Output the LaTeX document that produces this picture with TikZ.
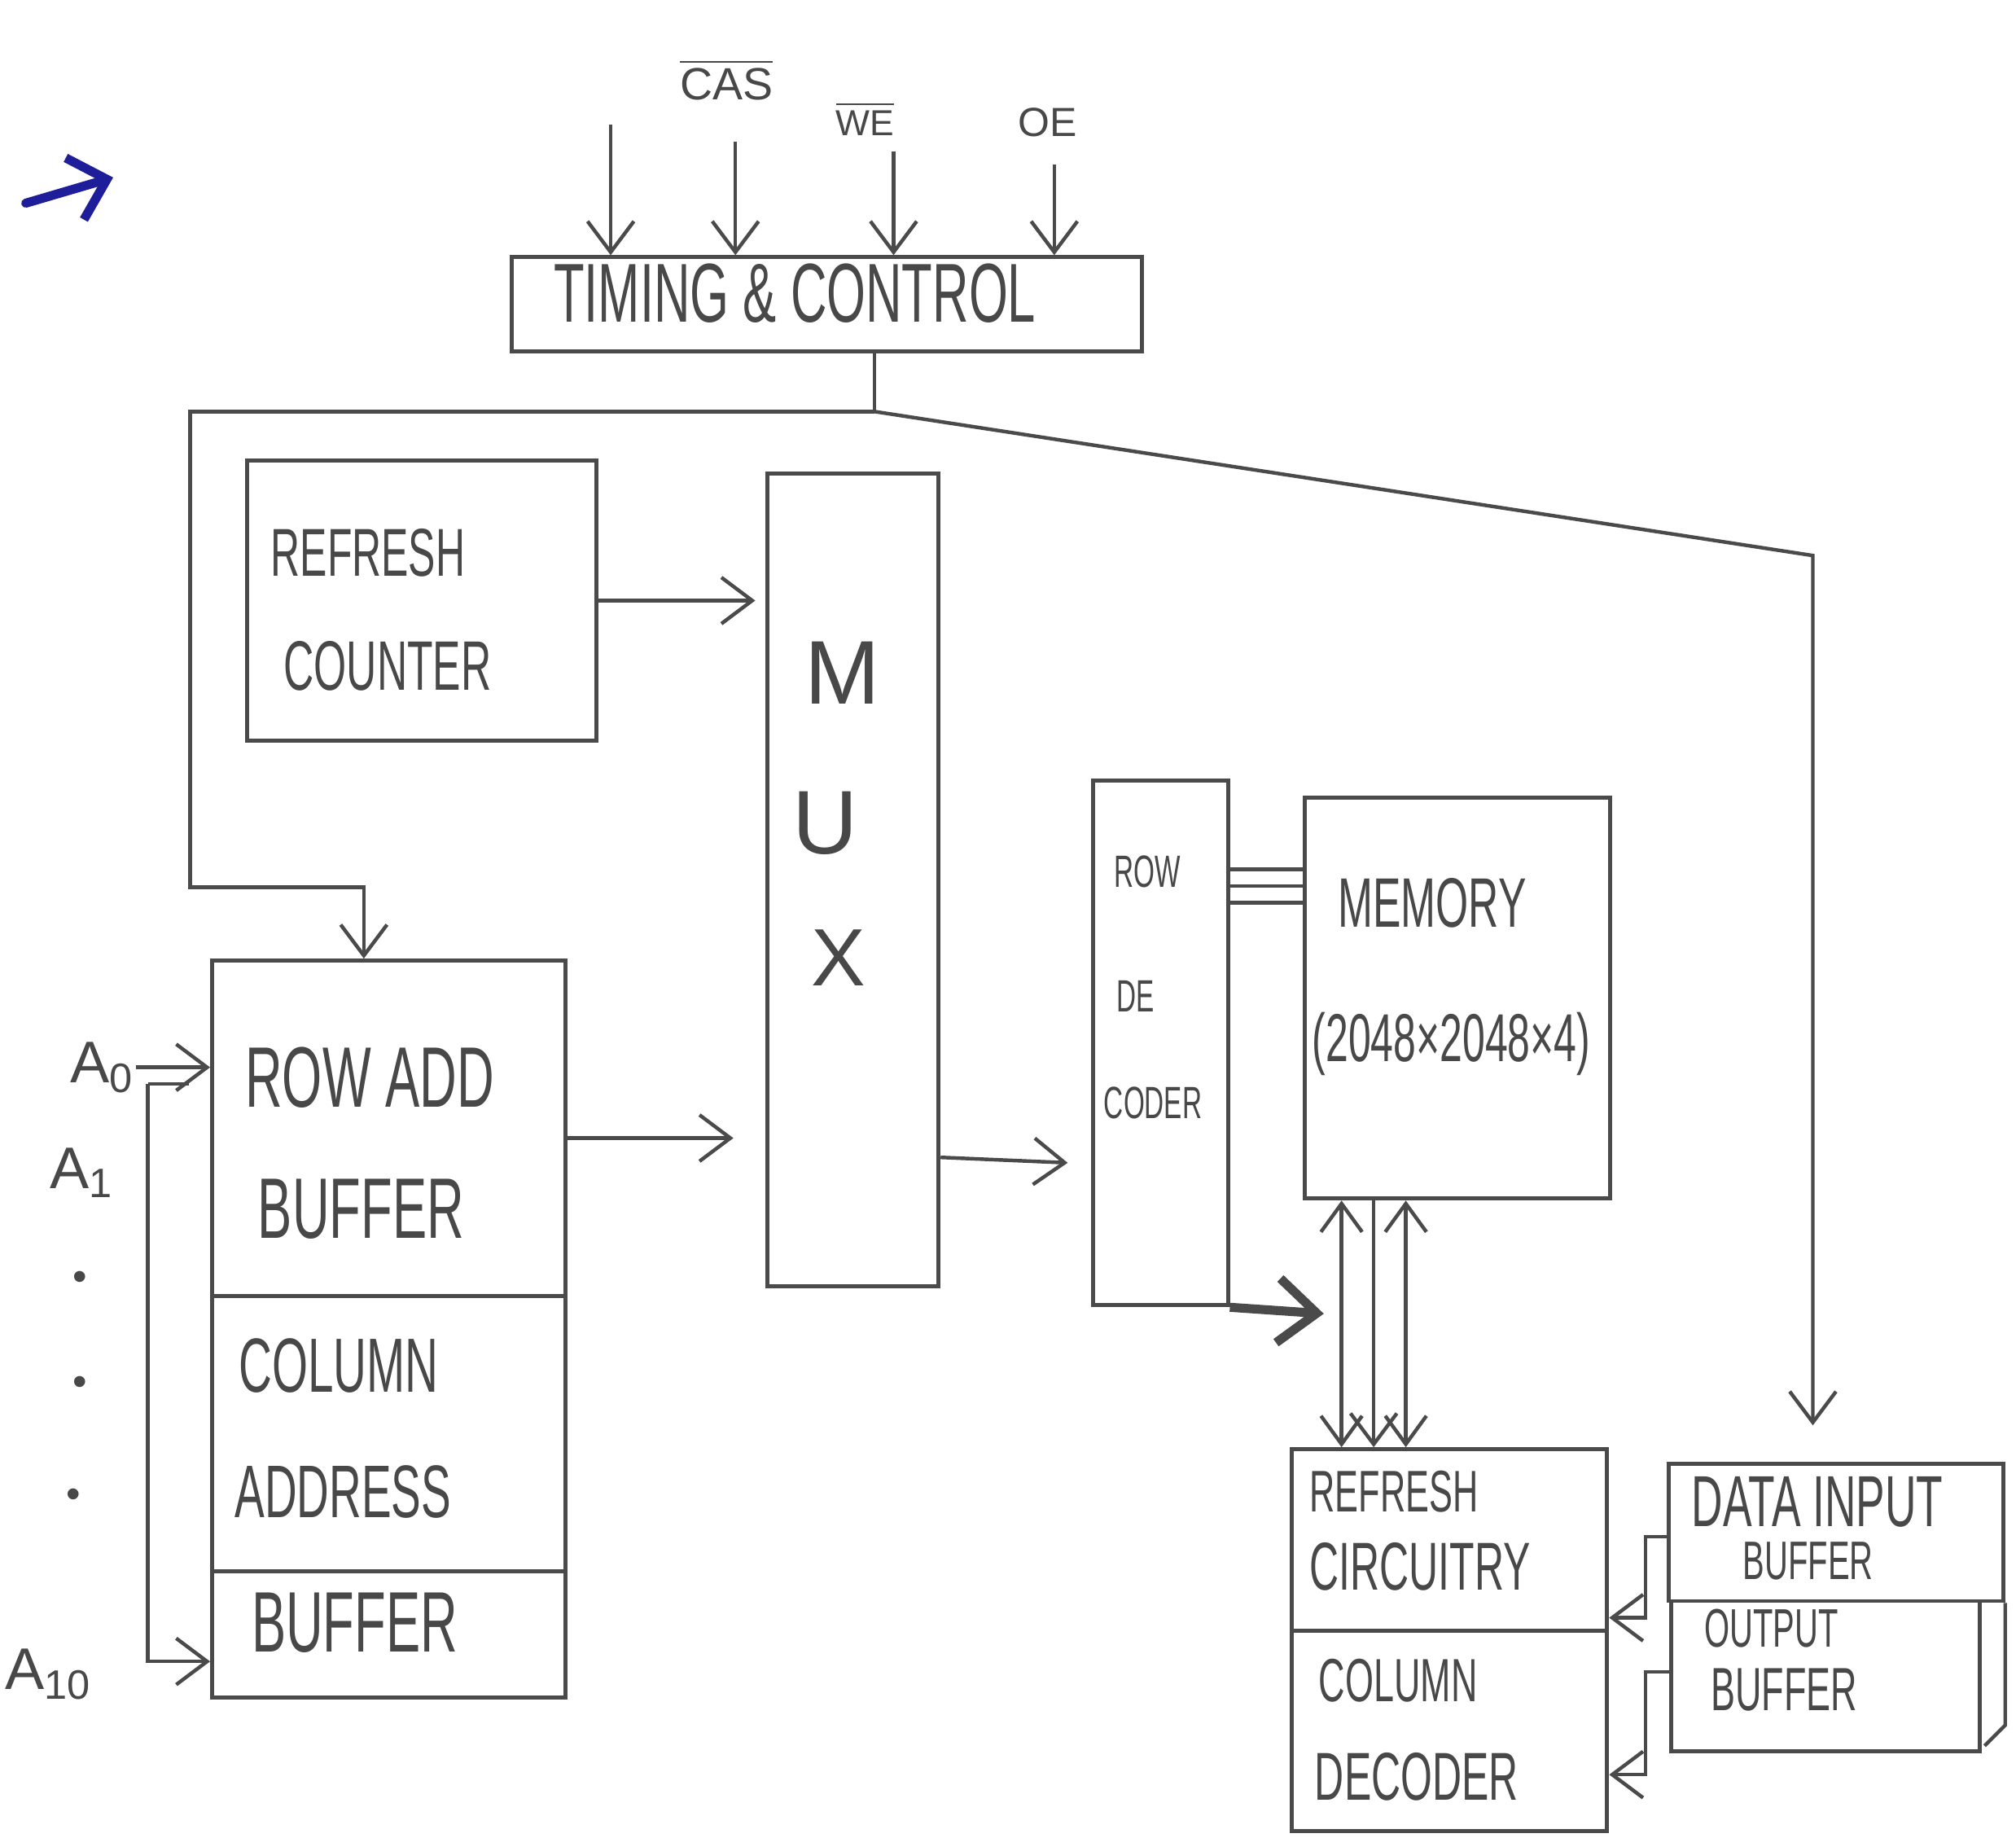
\documentclass[tikz,border=0pt]{standalone}
\usepackage{fontspec}
\newfontfamily\hand[FakeStretch=0.6]{Liberation Sans}
\newfontfamily\handw{Liberation Sans}
\usetikzlibrary{arrows.meta,fit,calc}
\definecolor{ink}{HTML}{4A4A4A}
\definecolor{txt}{HTML}{484848}
\definecolor{pen}{HTML}{1E1E9A}
\begin{document}
\begin{tikzpicture}[x=0.1mm,y=-0.1mm,
  box/.style={draw=ink, line width=0.9pt, inner sep=0pt},
  wire/.style={draw=ink, line width=0.8pt},
  arr/.style={wire, -{Straight Barb[length=2.4mm,width=3.6mm]}},
  arrb/.style={wire, {Straight Barb[length=2.2mm,width=3.2mm]}-{Straight Barb[length=2.2mm,width=3.2mm]}},
  lbl/.style={text=txt, inner sep=0pt, anchor=west, font=\hand\fontsize{#1}{#1}\selectfont},
  big/.style={text=txt, inner sep=0pt, font=\handw\fontsize{#1}{#1}\selectfont}]
\useasboundingbox (0,0) rectangle (1568,1429);
\fill[white] (0,0) rectangle (1568,1429);

% blue pen arrow
\coordinate (b1) at (20,158);
\coordinate (b2) at (88,138);
\draw[pen, line width=2pt, line cap=round, -{Straight Barb[length=2.6mm,width=5mm,line width=2pt]}] (b1) -- (b2);

% timing & control
\node[box, fit={(398,200) (888,273)}] (tc) {};
\node[lbl=18.5] (tct) at (430,228) {TIMING \& CONTROL};
\coordinate (s1) at (475,97);
\coordinate (s2) at (572,110);
\coordinate (s3) at (695,118);
\coordinate (s4) at (820,128);
\draw[arr] (s1) -- (s1 |- tc.north);
\draw[arr] (s2) -- (s2 |- tc.north);
\draw[arr] (s3) -- (s3 |- tc.north);
\draw[arr] (s4) -- (s4 |- tc.north);
\node[big=10] (cas) at (565,62) {$\overline{\mbox{CAS}}$};
\node[big=8] (we) at (673,92) {$\overline{\mbox{WE}}$};
\node[big=9] (oe) at (815,95) {OE};

% blocks
\node[box, fit={(192,358) (464,576)}] (rc) {};
\node[lbl=15] at (210,430) {REFRESH};
\node[lbl=15.5] at (220,518) {COUNTER};

\node[box, fit={(597,368) (730,1000)}] (mux) {};
\node[big=20] at (655,523) {M};
\node[big=20] at (642,640) {U};
\node[big=18] at (652,745) {X};

\node[box, fit={(165,747) (440,1008)}] (ra) {};
\node[box, fit={(165,1008) (440,1320)}] (ca) {};
\draw[wire] (ca.west |- 0,1222) -- (ca.east |- 0,1222);
\node[lbl=19] at (190,838) {ROW ADD};
\node[lbl=19] at (200,940) {BUFFER};
\node[lbl=17] at (185,1062) {COLUMN};
\node[lbl=16.5] at (182,1160) {ADDRESS};
\node[lbl=19] at (195,1262) {BUFFER};

\node[box, fit={(850,607) (955,1015)}] (rd) {};
\node[lbl=10] at (866,678) {ROW};
\node[lbl=10] at (868,775) {DE};
\node[lbl=10] at (858,858) {CODER};

\node[box, fit={(1015,620) (1252,932)}] (mem) {};
\node[lbl=15.5] at (1040,702) {MEMORY};
\node[lbl=15] at (1020,812) {(2048×2048×4)};

\node[box, fit={(1005,1127) (1250,1268)}] (rf) {};
\node[box, fit={(1005,1268) (1250,1424)}] (cd) {};
\node[lbl=13] at (1018,1160) {REFRESH};
\node[lbl=15] at (1018,1218) {CIRCUITRY};
\node[lbl=13.5] at (1025,1307) {COLUMN};
\node[lbl=15] at (1022,1382) {DECODER};

\node[box, fit={(1298,1138) (1558,1245)}] (dib) {};
\node[box, fit={(1300,1245) (1540,1362)}] (ob) {};
\node[lbl=16] at (1315,1168) {DATA INPUT};
\node[lbl=12] at (1355,1214) {BUFFER};
\node[lbl=12] at (1325,1266) {OUTPUT};
\node[lbl=13.5] at (1330,1314) {BUFFER};
\draw[wire] (dib.south east) -- ($(dib.south east)+(0,95)$) -- ($(ob.south east)+(2,-6)$);

% control wires
\coordinate (tcb) at ($(tc.south)+(37,0)$);
\coordinate (j) at (tcb |- 0,320);
\draw[wire] (tcb) -- (j);
\draw[arr] (j) -- (148,320) -- (148,690) -- (283,690) -- (283,690 |- ra.north);
\draw[arr, shorten >=2.8mm] (j) -- (1410,432) -- (1410,432 |- dib.north);

% data path
\draw[arr, shorten >=0.8mm] (rc.east) -- (mux.west |- rc.east);
\draw[arr, shorten >=2.5mm] (ra.east |- 0,885) -- (mux.west |- 0,885);
\draw[arr, shorten >=1.8mm] (mux.east |- 0,900) -- (rd.west |- 0,905);
\foreach \yy in {676,689,702} \draw[wire] (rd.east |- 0,\yy) -- (mem.west |- 0,\yy);
\draw[wire, line width=2pt, -{Straight Barb[length=3mm,width=5mm,line width=2pt]}] (rd.south east) -- ($(rd.south east)+(73,5)$);

\coordinate (v1) at ($(mem.south west)+(30,0)$);
\coordinate (v2) at ($(mem.south west)+(55,0)$);
\coordinate (v3) at ($(mem.south west)+(80,0)$);
\draw[arrb] (v1) -- (v1 |- rf.north);
\draw[arr] (v2) -- (v2 |- rf.north);
\draw[arrb] (v3) -- (v3 |- rf.north);

\draw[arr] (dib.west |- 0,1195) -- (1280,1195) -- (1280,1258) -- (rf.east |- 0,1258);
\draw[arr] (ob.west |- 0,1300) -- (1280,1300) -- (1280,1380) -- (cd.east |- 0,1380);

% address inputs
\node[big=13] (a0) at (80,830) {A\textsubscript{0}};
\node[big=13] (a1) at (64,912) {A\textsubscript{1}};
\node[big=9] (d1) at (62,996) {•};
\node[big=9] (d2) at (62,1078) {•};
\node[big=9] (d3) at (57,1165) {•};
\node[big=13] (a10) at (38,1302) {A\textsubscript{10}};
\draw[arr] (a0.east) -- (ra.west |- a0.east);
\coordinate (bt) at (115,843);
\coordinate (bb) at (115,1292);
\draw[wire] (bt) -- ($(bt)+(32,0)$);
\draw[arr] (bt) -- (bb) -- (ca.west |- bb);
\end{tikzpicture}
\end{document}
